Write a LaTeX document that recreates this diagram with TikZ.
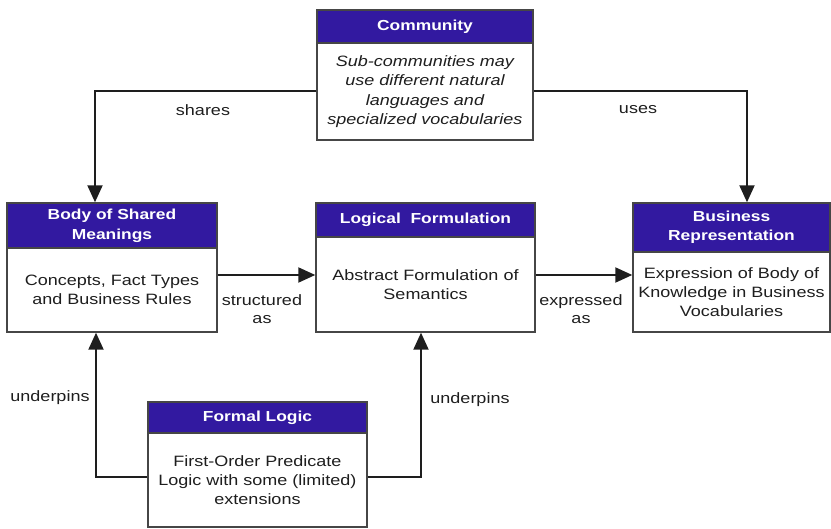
\documentclass[tikz,border=0pt]{standalone}
\usepackage{fontspec}
\setmainfont[FakeStretch=1.2]{Liberation Sans}
\usetikzlibrary{arrows.meta,calc}
\definecolor{hdrblue}{RGB}{50,25,160}
\definecolor{frame}{RGB}{70,70,70}
\definecolor{ink}{RGB}{30,30,30}
\tikzset{
  hdr/.style={draw=frame,line width=1.4pt,fill=hdrblue,text=white,inner sep=0pt,
    font=\fontsize{14.5}{19.5}\selectfont\bfseries,align=center},
  bdy/.style={draw=frame,line width=1.4pt,fill=white,text=ink,inner sep=0pt,
    font=\fontsize{15}{19.3}\selectfont,align=center},
  arr/.style={draw=ink,line width=2pt,-{Triangle[width=15pt,length=17pt]}},
  lbl/.style={text=ink,font=\fontsize{15}{18.5}\selectfont,align=center,inner sep=0pt}
}
\begin{document}
\begin{tikzpicture}[x=1pt,y=-1pt]
\useasboundingbox (0,0) rectangle (831,529);
% Community
\node[hdr,minimum width=216pt,minimum height=33pt] (comH) at (425,26.5) {Community};
\node[bdy,minimum width=216pt,minimum height=97pt] (comB) at (425,91.5)
  {\itshape Sub-communities may\\\itshape use different natural\\\itshape languages and\\\itshape specialized vocabularies};
% Body of Shared Meanings
\node[hdr,minimum width=210pt,minimum height=45pt] (bodH) at (112,225.5) {\raisebox{-2pt}{\begin{tabular}{@{}c@{}}Body of Shared\\Meanings\end{tabular}}};
\node[bdy,minimum width=210pt,minimum height=84pt] (bodB) at (112,290) {Concepts, Fact Types\\and Business Rules};
% Logical Formulation
\node[hdr,minimum width=219pt,minimum height=34pt] (logH) at (425.5,220) {Logical\ \ Formulation};
\node[bdy,minimum width=219pt,minimum height=95pt] (logB) at (425.5,284.5) {Abstract Formulation of\\Semantics};
% Business Representation
\node[hdr,minimum width=197pt,minimum height=49pt] (busH) at (731.5,227.5) {Business\\Representation};
\node[bdy,minimum width=197pt,minimum height=80pt] (busB) at (731.5,292) {Expression of Body of\\Knowledge in Business\\Vocabularies};
% Formal Logic
\node[hdr,minimum width=219pt,minimum height=31pt] (forH) at (257.5,417.5) {Formal Logic};
\node[bdy,minimum width=219pt,minimum height=94pt] (forB) at (257.5,480) {First-Order Predicate\\Logic with some (limited)\\extensions};
% connectors
\draw[arr] (comB.west) -| ([xshift=-17pt]bodH.north);
\draw[arr] (comB.east) -| ([xshift=15.5pt]busH.north);
\draw[arr] ([yshift=15pt]bodB.east) -- ([yshift=15pt]bodB.east -| logB.west);
\draw[arr] ([yshift=9.5pt]logB.east) -- ([yshift=9.5pt]logB.east -| busB.west);
\draw[arr] ([yshift=3pt]forB.west) -| ([xshift=-16pt]bodB.south);
\draw[arr] ([yshift=3pt]forB.east) -| ([xshift=-4.5pt]logB.south);
% labels
\node[lbl] (lshares) at (203,110) {shares};
\node[lbl] (luses) at (638,110) {uses};
\node[lbl] (lstruct) at (262,309) {structured\\as};
\node[lbl] (lexpr) at (581,309) {expressed\\as};
\node[lbl] (lund1) at (50,398) {underpins};
\node[lbl] (lund2) at (470,400) {underpins};
\end{tikzpicture}
\end{document}
